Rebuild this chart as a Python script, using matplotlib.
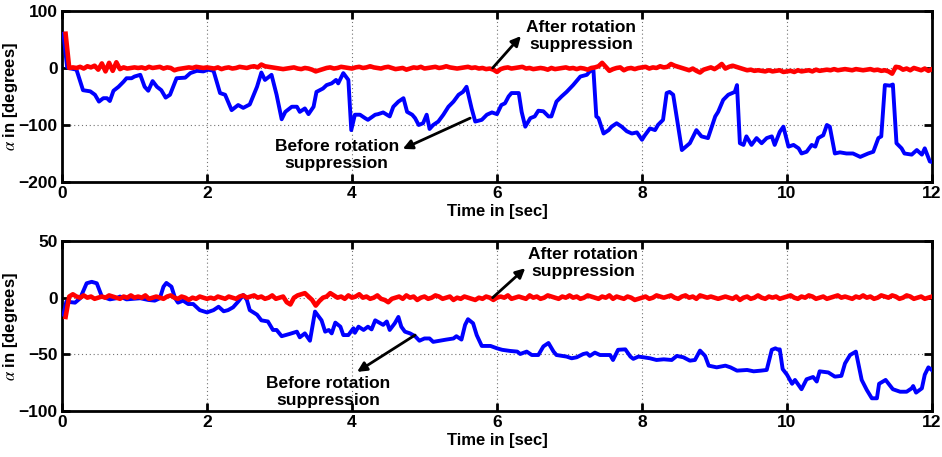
import matplotlib
matplotlib.use("Agg")
import matplotlib.pyplot as plt
import numpy as np

plt.rcParams['font.family'] = ['Liberation Sans', 'DejaVu Sans']
plt.rcParams['mathtext.fontset'] = 'stix'

# ---------------- data ----------------
top_blue_t = [0.02, 0.07, 0.09, 0.2, 0.29, 0.39, 0.455, 0.51, 0.57, 0.62, 0.66, 0.71, 0.78, 0.85, 0.89,
              0.96, 1.0, 1.08, 1.14, 1.19, 1.25, 1.31, 1.37, 1.43, 1.49, 1.58, 1.70, 1.77, 1.86, 1.95,
              2.02, 2.09, 2.18, 2.25, 2.34, 2.43, 2.50, 2.59, 2.69, 2.75, 2.80, 2.89, 2.96, 3.03, 3.08,
              3.17, 3.24, 3.28, 3.35, 3.40, 3.47, 3.51, 3.60, 3.65, 3.72, 3.78, 3.81, 3.88, 3.95, 3.99,
              4.04, 4.11, 4.18, 4.22, 4.32, 4.36, 4.43, 4.48, 4.52, 4.57, 4.64, 4.71, 4.76, 4.83, 4.87,
              4.92, 4.98, 5.03, 5.07, 5.12, 5.19, 5.26, 5.33, 5.40, 5.47, 5.53, 5.58, 5.65, 5.70, 5.79,
              5.86, 5.93, 6.00, 6.06, 6.11, 6.16, 6.20, 6.30, 6.34, 6.39, 6.46, 6.52, 6.57, 6.64, 6.71,
              6.75, 6.82, 6.89, 6.96, 7.05, 7.15, 7.24, 7.28, 7.33, 7.37, 7.40, 7.47, 7.54, 7.58, 7.65,
              7.72, 7.79, 7.86, 7.93, 8.00, 8.04, 8.11, 8.18, 8.22, 8.29, 8.34, 8.38, 8.43, 8.55, 8.66,
              8.75, 8.82, 8.91, 9.01, 9.05, 9.12, 9.19, 9.28, 9.31, 9.35, 9.40, 9.44, 9.51, 9.58, 9.65,
              9.72, 9.79, 9.83, 9.90, 9.95, 10.02, 10.09, 10.16, 10.20, 10.27, 10.34, 10.39, 10.43, 10.50,
              10.55, 10.59, 10.66, 10.73, 10.82, 10.91, 11.01, 11.12, 11.19, 11.26, 11.30, 11.35, 11.42,
              11.46, 11.51, 11.58, 11.62, 11.72, 11.79, 11.86, 11.90, 11.97, 12.0]
top_blue_v = [60, 2, 0, -3, -39, -41, -47, -59, -53, -53, -58, -40, -33, -24, -18,
              -18, -15, -12, -33, -40, -23, -33, -39, -52, -47, -18, -17, -9, -5, -6,
              -3, -5, -44, -47, -74, -65, -70, -64, -33, -8, -21, -12, -47, -90, -77,
              -68, -68, -77, -71, -81, -68, -42, -36, -30, -27, -21, -27, -9, -21, -109,
              -82, -82, -88, -91, -82, -81, -78, -82, -85, -68, -59, -53, -77, -82, -88,
              -100, -97, -82, -107, -100, -94, -82, -68, -59, -47, -42, -33, -71, -94, -91,
              -82, -78, -81, -65, -62, -50, -44, -44, -77, -103, -88, -85, -75, -76, -85,
              -85, -59, -50, -42, -30, -15, -12, -6, -3.5, -85, -88, -115, -109, -103, -97,
              -103, -111, -115, -113, -126, -118, -106, -109, -100, -91, -44, -42, -47, -144, -132,
              -109, -120, -123, -85, -77, -56, -47, -42, -30, -132, -135, -120, -135, -123, -132,
              -123, -120, -135, -112, -103, -138, -135, -141, -150, -147, -135, -138, -123, -118,
              -100, -103, -150, -148, -150, -150, -156, -150, -147, -123, -120, -30, -31,
              -29, -132, -141, -150, -152, -144, -152, -141, -164, -165]

# red series sampled every 0.05 s from 0.05 to 12.00
top_red_v = [60, 0, 1, 0, 2, -1, 3, 1, 4, -3, 8, -6, 9, -5, 10, -2, 1, -1, 0, 1,
             0, 1, -1, 2, 0, 1, 2, -1, 1, 0, -4, -2, -1, 0, 1, 0, 2, 1, 0, 1,
             0, -1, 1, -2, 0, 1, -1, 0, 2, 1, 0, 2, 3, 1, 6, 3, 2, 1, 0, -1,
             -2, -1, 0, 1, -1, -2, 0, -1, -3, -6, -4, -2, 0, 1, -1, 0, 2, 1, 0, -1,
             1, 2, 0, 1, 3, 1, 0, -1, 1, 2, 0, -2, -1, 0, -3, -1, 1, 0, 2, -1,
             0, 1, 2, 0, 1, 3, 1, 0, -1, 0, 1, 2, 0, 1, -1, 0, -2, -1, -3, -7,
             -2, 0, 1, -1, 0, 1, 2, -1, 0, -2, -1, 0, -1, -3, 0, -2, -1, 0, 1, -1,
             0, -2, 0, -1, -3, 0, 1, 3, 9, 2, -5, -2, 0, 1, -4, -1, 0, -2, 0, 1,
             2, -1, 1, 0, 3, 1, 2, 7, 4, 2, 0, -2, -4, -1, -5, -8, -3, -1, 1, -2,
             2, 7, -1, 2, 4, 2, 0, -2, -4, -3, -5, -4, -5, -6, -4, -6, -5, -4, -7, -6,
             -5, -7, -4, -6, -5, -4, -6, -3, -5, -4, -3, -4, -2, -4, -3, -2, -3, -4, -2, -3,
             -4, -3, -2, -4, -3, -5, -4, -6, -10, 2, 1, -3, -1, -4, 0, -2, -4, -1, -5, -2]

bot_blue_t = [0.02, 0.06, 0.18, 0.25, 0.34, 0.41, 0.48, 0.55, 0.66, 0.75, 0.80, 0.89, 1.08, 1.19, 1.28,
              1.35, 1.40, 1.44, 1.51, 1.56, 1.60, 1.67, 1.74, 1.81, 1.90, 2.00, 2.09, 2.16, 2.23, 2.29,
              2.36, 2.43, 2.50, 2.55, 2.59, 2.69, 2.75, 2.84, 2.91, 2.96, 3.03, 3.14, 3.24, 3.28, 3.35,
              3.42, 3.49, 3.58, 3.63, 3.68, 3.72, 3.77, 3.84, 3.88, 3.95, 4.02, 4.04, 4.09, 4.16, 4.22,
              4.27, 4.32, 4.39, 4.43, 4.48, 4.52, 4.59, 4.64, 4.68, 4.73, 4.80, 4.87, 4.93, 5.00, 5.07,
              5.12, 5.21, 5.30, 5.40, 5.44, 5.51, 5.56, 5.60, 5.67, 5.72, 5.79, 5.91, 6.00, 6.07, 6.18,
              6.28, 6.32, 6.41, 6.48, 6.57, 6.64, 6.71, 6.78, 6.82, 6.96, 7.03, 7.10, 7.19, 7.24, 7.28,
              7.35, 7.42, 7.49, 7.56, 7.60, 7.67, 7.77, 7.84, 7.88, 7.95, 8.02, 8.11, 8.20, 8.30, 8.41,
              8.48, 8.57, 8.66, 8.73, 8.80, 8.87, 8.92, 9.03, 9.15, 9.22, 9.31, 9.45, 9.54, 9.64, 9.72,
              9.79, 9.84, 9.88, 9.90, 9.94, 10.00, 10.07, 10.11, 10.20, 10.27, 10.36, 10.41, 10.45, 10.57,
              10.66, 10.75, 10.80, 10.87, 10.95, 11.03, 11.10, 11.17, 11.24, 11.27, 11.36, 11.46, 11.56,
              11.65, 11.72, 11.74, 11.78, 11.86, 11.90, 11.95, 12.0]
bot_blue_v = [-15, -3.5, -4.4, -0.6, 12.7, 14, 12.7, 1, -1.5, -0.5, 1, -1.5, -0.5, -2, -2.6,
              -0.5, 9.7, 13, 9.7, -0.5, -4.4, -2.6, -5.6, -5.6, -11, -13, -11, -8, -12, -11,
              -8.5, -3.5, 2.4, -2, -11, -15, -20, -21, -28.5, -28.5, -34, -32, -30, -35, -31.5,
              -38, -12.3, -20, -30, -28.5, -31.5, -22, -25.6, -33, -33, -27, -31, -25.6, -28.5, -25.6,
              -28, -20, -22.6, -24, -21, -28.5, -22.6, -17, -25.6, -30, -31.5, -34, -38, -36, -36,
              -39, -38, -37, -36, -34, -37, -24, -19, -22.6, -33, -42.6, -42.6, -44.7, -46, -47,
              -47.6, -49.7, -47.6, -50.6, -50.6, -43, -40, -47.6, -50.6, -52, -53.5, -52.6, -49.7, -49, -51.4,
              -48.5, -50.6, -50.6, -50.6, -55, -46, -45.6, -52, -54, -52, -52.6, -53.5, -55, -54.4, -55,
              -51.4, -52.6, -55.6, -55, -46.7, -51.4, -60, -61.5, -60, -61.5, -64.4, -63.8, -65, -64.4, -63.8,
              -46, -44.7, -46, -45.6, -63, -68, -76, -72.6, -80.8, -72, -70, -74, -65, -66,
              -69.7, -69, -58, -50.6, -47.6, -72.6, -81.4, -88.8, -88.8, -76, -72.6, -80.8, -83,
              -83, -80, -78, -83.8, -80, -68, -61.5, -64]

bot_red_v = [-17, 1, 3, 1, 0, 2, 0, 1, -1, 0, 1, 0, 2, 1, 0, -1, 1, 0, 2, 0,
             1, 0, 2, -1, 0, 1, 0, -1, 1, 2, 0, -1, 1, 0, -2, 0, -1, 1, 0, -1,
             0, -1, 1, 0, -1, 1, 0, -1, 1, 2, 0, 1, 2, 0, 1, -1, 0, 2, -1, 0,
             1, -4, -6, 0, 2, 3, 4, 1, -2, -7, -3, 0, 1, 4, 2, 0, 1, -1, 2, 0,
             1, 3, 0, 1, -1, 0, 2, -1, -2, -4, -1, 0, 1, -1, 2, 0, 1, -2, 0, 1,
             -1, 0, 2, 1, -1, 0, 1, -2, 0, -1, 1, 0, -1, -2, 0, -1, 1, 0, -2, 0,
             1, 0, 2, -1, 0, 1, 0, -1, 2, 0, 1, -1, 0, 2, 1, 0, -1, 1, 0, 2,
             0, 1, -1, 0, 2, 1, 0, -1, 1, 0, 2, -1, 1, 0, -1, 1, 0, -2, -1, 0,
             1, -1, 0, 2, 1, 0, 1, 2, 0, -1, 1, 2, 0, 1, -1, 2, 1, 0, 1, 0,
             -1, 0, 1, 0, -1, 1, -2, 0, 1, -1, 0, 2, 0, -1, 1, 0, 1, -1, 0, 1,
             2, 0, -1, 1, 0, 2, 1, -1, 0, 1, -1, 0, 1, 2, 0, 1, 0, -1, 1, 0,
             2, 0, 1, -1, 0, 2, 1, 0, 2, 1, -1, 0, 2, 1, -1, 0, 1, -1, 0, 1]

red_t = np.round(np.arange(1, len(top_red_v) + 1) * 0.05, 2)

x_ticks = [0, 2, 4, 6, 8, 10, 12]
top_yticks = [-200, -100, 0, 100]
bot_yticks = [-100, -50, 0, 50]
label_before = "Before rotation\nsuppression"
label_after = "After rotation\nsuppression"

# ---------------- figure ----------------
fig = plt.figure(figsize=(9.42, 4.57), dpi=100)
ax1 = fig.add_axes([0.0658, 0.6018, 0.9236, 0.3742])
ax2 = fig.add_axes([0.0658, 0.1007, 0.9236, 0.3719])

def style(ax, yticks):
    ax.set_xlim(0, 12)
    ax.set_ylim(yticks[0], yticks[-1])
    ax.set_xticks(x_ticks)
    ax.set_yticks(yticks)
    ax.grid(True, linestyle=(0, (1, 2.5)), color='0.45', linewidth=0.8)
    ax.tick_params(direction='in', length=6, width=2, top=True, right=True,
                   labelsize=12.5, pad=3)
    for lab in ax.get_xticklabels() + ax.get_yticklabels():
        lab.set_fontweight('bold')
    for s in ax.spines.values():
        s.set_linewidth(2)
    ax.set_xlabel('Time in [sec]', fontsize=12, fontweight='bold', labelpad=2)
    ax.set_ylabel(r'$\alpha$ in [degrees]', fontsize=12, fontweight='bold')
    ax.yaxis.set_label_coords(-0.048, 0.5)

ax1.plot(top_blue_t, top_blue_v, color='#0000ff', lw=2.8, solid_joinstyle='round', zorder=3)
ax1.plot(red_t, top_red_v, color='#ff0000', lw=3.3, solid_joinstyle='round', zorder=4)
style(ax1, top_yticks)

ax2.plot(bot_blue_t, bot_blue_v, color='#0000ff', lw=2.8, solid_joinstyle='round', zorder=3)
ax2.plot(red_t, bot_red_v, color='#ff0000', lw=3.3, solid_joinstyle='round', zorder=4)
style(ax2, bot_yticks)

arrow = dict(arrowstyle='-|>', color='k', lw=2, mutation_scale=14, shrinkA=0, shrinkB=0)
tkw = dict(ha='center', va='center', fontsize=12.5, fontweight='bold', linespacing=1.15, zorder=6)

# top annotations
ax1.annotate('', xy=(6.33, 56), xytext=(5.94, 0), arrowprops=arrow, zorder=6)
ax1.text(7.16, 56, label_after, **tkw)
ax1.annotate('', xy=(4.70, -142), xytext=(5.63, -88), arrowprops=arrow, zorder=6)
ax1.text(3.79, -153, label_before, **tkw)

# bottom annotations
ax2.annotate('', xy=(6.39, 26), xytext=(5.94, 0), arrowprops=arrow, zorder=6)
ax2.text(7.19, 30.5, label_after, **tkw)
ax2.annotate('', xy=(4.07, -65.5), xytext=(4.87, -33), arrowprops=arrow, zorder=6)
ax2.text(3.67, -83, label_before, **tkw)

fig.savefig('out.png', dpi=100)
